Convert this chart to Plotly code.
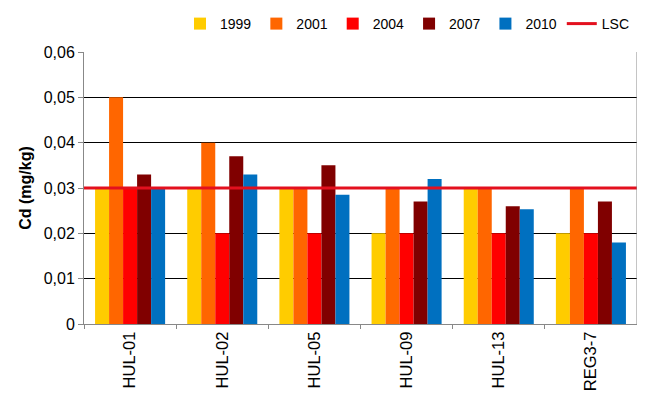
import plotly.graph_objs as go

# stations and Cd concentrations (mg/kg) per year
stations = ["HUL-01", "HUL-02", "HUL-05", "HUL-09", "HUL-13", "REG3-7"]
cd1999 = [0.03, 0.03, 0.03, 0.02, 0.03, 0.02]
cd2001 = [0.05, 0.04, 0.03, 0.03, 0.03, 0.03]
cd2004 = [0.03, 0.02, 0.02, 0.02, 0.02, 0.02]
cd2007 = [0.033, 0.037, 0.035, 0.027, 0.026, 0.027]
cd2010 = [0.03, 0.033, 0.0285, 0.032, 0.0253, 0.018]
lsc = 0.03  # limite

ytickvals = [0, 0.01, 0.02, 0.03, 0.04, 0.05, 0.06]
yticktext = ["0", "0,01", "0,02", "0,03", "0,04", "0,05", "0,06"]

series = [("1999", cd1999, "#ffcc00"),
          ("2001", cd2001, "#ff6600"),
          ("2004", cd2004, "#ff0000"),
          ("2007", cd2007, "#800000"),
          ("2010", cd2010, "#0070c0")]

fig = go.Figure()
for name, vals, col in series:
    fig.add_trace(go.Bar(x=stations, y=vals, name=name, marker_color=col,
                         marker_line_width=0))

# ligne LSC sur toute la largeur
fig.add_trace(go.Scatter(x=[0, 1], y=[lsc, lsc], name="LSC", mode="lines",
                         line=dict(color="#e3101e", width=3), xaxis="x2"))

# la page a une marge de 8px autour du graphique
fig.update_layout(
    width=637, height=409,
    margin=dict(l=76, r=8, t=44, b=93, autoexpand=False),
    paper_bgcolor="white", plot_bgcolor="white",
    font=dict(family="Liberation Sans, Arial", size=14, color="black"),
    barmode="group", bargap=0.24, bargroupgap=0,
    legend=dict(orientation="h", x=0.27, xanchor="left", xref="container",
                y=1, yanchor="top", yref="container",
                font=dict(size=14), itemwidth=30, tracegroupgap=0),
    xaxis=dict(showline=True, linecolor="#888888", linewidth=1, automargin=False,
               ticks="outside", tickson="boundaries", ticklen=4, tickcolor="#888888",
               tickangle=-90, tickfont=dict(size=16.5), mirror=False),
    xaxis2=dict(overlaying="x", range=[0, 1], visible=False),
    yaxis=dict(range=[0, 0.06], tickvals=ytickvals, ticktext=yticktext, automargin=False,
               showgrid=True, gridcolor="black", gridwidth=1,
               showline=True, linecolor="#888888", linewidth=1, tickfont=dict(size=16),
               ticks="outside", ticklen=5, tickcolor="#888888", zeroline=False,
               title=dict(text="<b>Cd (mg/kg)</b>", font=dict(size=16), standoff=8)),
    shapes=[dict(type="line", xref="paper", yref="paper", x0=1, x1=1, y0=0, y1=1,
                 line=dict(color="#888888", width=1))],
)

fig.write_html("out.html")
